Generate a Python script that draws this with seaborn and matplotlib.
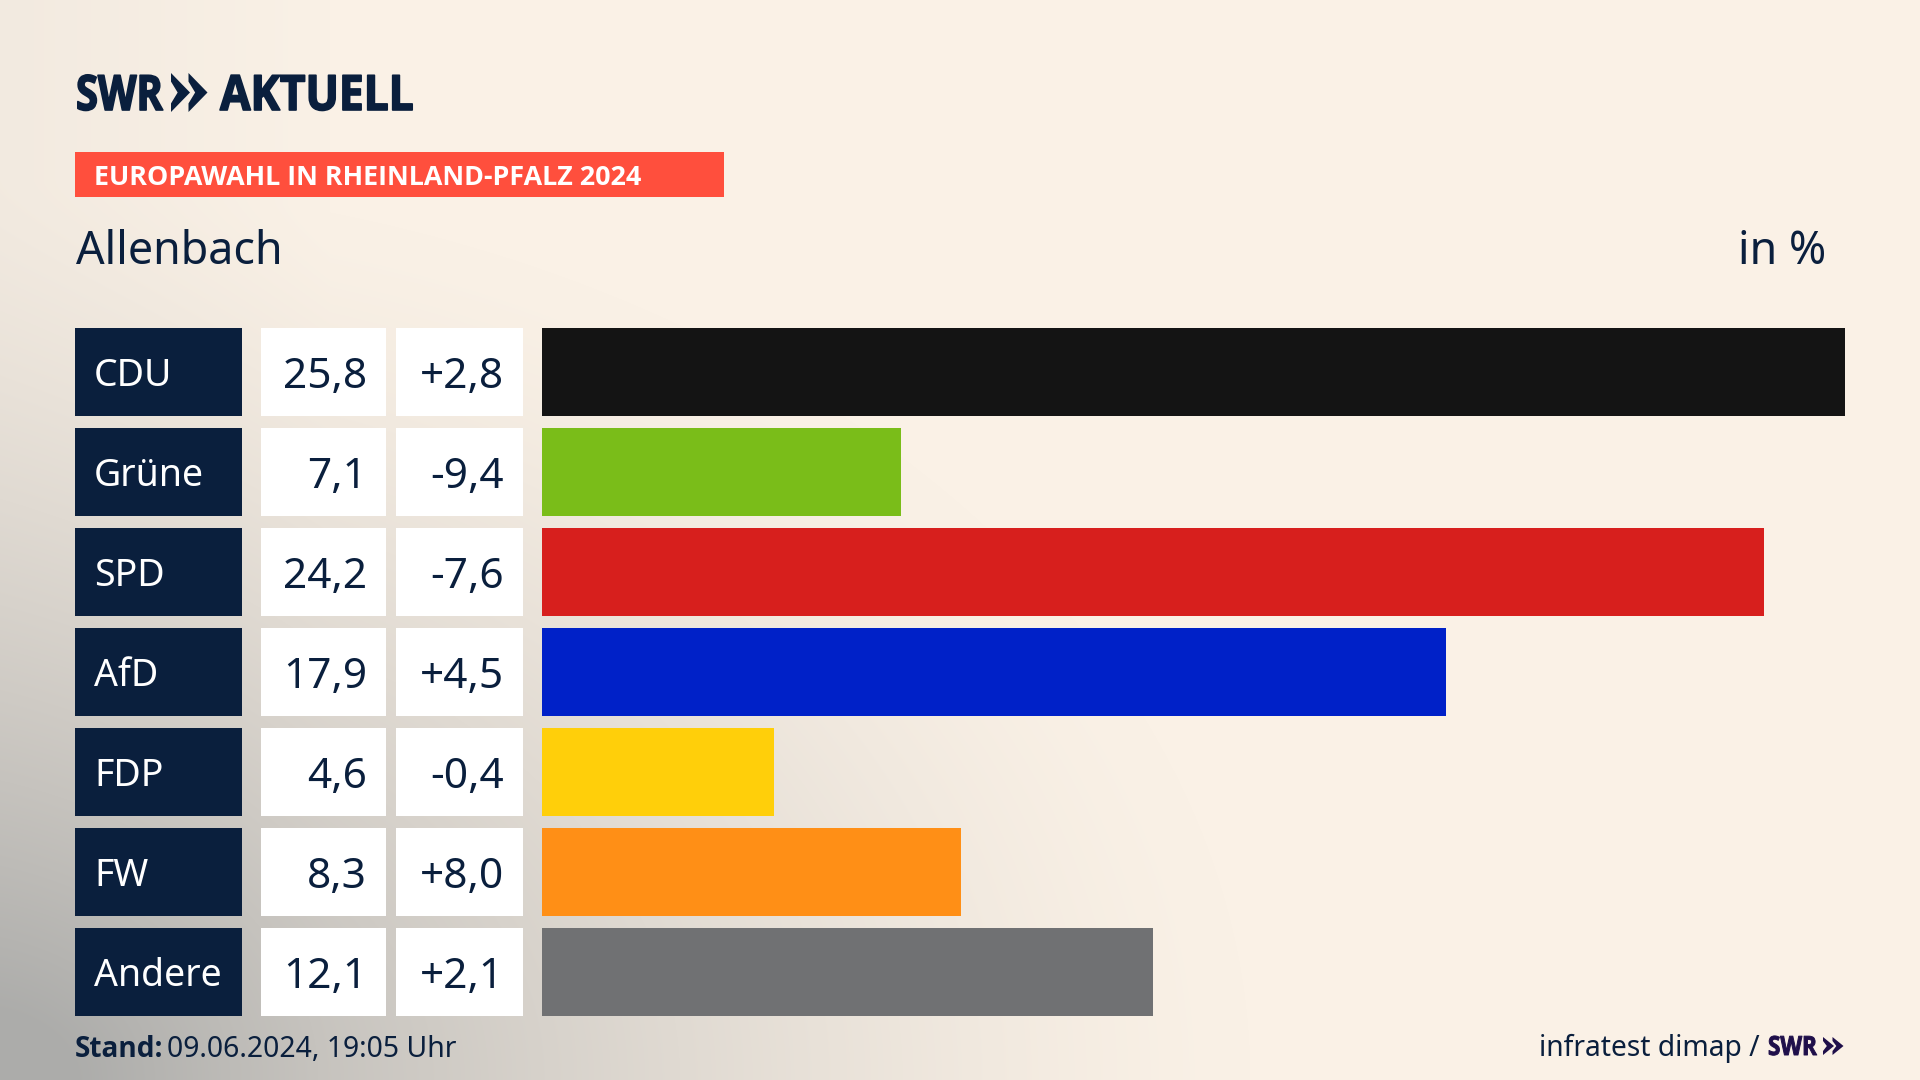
import numpy as np
import pandas as pd
import seaborn as sns
import matplotlib.pyplot as plt
from matplotlib.patheffects import AbstractPathEffect
from matplotlib.transforms import Affine2D

parties = ["CDU", "Grüne", "SPD", "AfD", "FDP", "FW", "Andere"]
shares = [25.8, 7.1, 24.2, 17.9, 4.6, 8.3, 12.1]
changes = ["+2,8", "-9,4", "-7,6", "+4,5", "-0,4", "+8,0", "+2,1"]
party_colors = ["#141414", "#7abd19", "#d71f1d", "#0021c8", "#ffcf0a", "#ff8f16", "#707173"]

NAVY = "#0a1f3d"
W, H = 1920, 1080
BOLD = "Open Sans"

sns.set_theme(style="white")
plt.rcParams["font.family"] = ["Noto Sans", "DejaVu Sans"]

fig = plt.figure(figsize=(W / 100, H / 100), dpi=100)


class Squeeze(AbstractPathEffect):
    # narrows a text around its left edge and thickens it, the logo lettering is heavy and condensed
    def __init__(self, sx, x0, lw):
        super().__init__()
        self.sx = sx
        self.x0 = x0
        self.lw = lw

    def draw_path(self, renderer, gc, tpath, affine, rgbFace=None):
        squeeze = Affine2D().translate(-self.x0, 0).scale(self.sx, 1).translate(self.x0, 0)
        gc0 = renderer.new_gc()
        gc0.copy_properties(gc)
        gc0.set_linewidth(self.lw)
        gc0.set_foreground(rgbFace)
        renderer.draw_path(gc0, tpath, affine + squeeze, rgbFace)
        gc0.restore()


def px_axes(left, top, right, bottom):
    return fig.add_axes([left / W, 1 - bottom / H, (right - left) / W, (bottom - top) / H])


# backdrop, canvas in pixels
bg = px_axes(0, 0, W, H)
yy, xx = np.mgrid[0:H, 0:W]
d = np.sqrt((xx / 1250.0) ** 2 + ((H - yy) / 900.0) ** 2)
t = np.clip(1 - d, 0, 1) ** 1.4
t = t + 0.10 * np.clip(1 - xx / 330.0, 0, 1)
t = np.clip(t, 0, 1)[..., None]
cream = np.array([250, 241, 230]) / 255
grey = np.array([172, 172, 170]) / 255
bg.imshow(cream * (1 - t) + grey * t, aspect="auto", extent=(0, W, H, 0), zorder=0)
bg.set_xlim(0, W)
bg.set_ylim(H, 0)
bg.axis("off")


def chevrons(x0, y0, w, h, gap, color):
    for x in (x0, x0 + gap):
        bg.fill([x, x + w, x, x, x + w * 0.35, x],
                [y0, y0 + h / 2, y0 + h, y0 + h * 0.78, y0 + h / 2, y0 + h * 0.22], color=color, lw=0)


def logo_text(x, y, s, size, sx, color, lw):
    txt = bg.text(x, y, s, fontsize=size, fontweight="bold", color=color, va="baseline", family=BOLD)
    txt.set_path_effects([Squeeze(sx, x, lw)])


# header
logo_text(76, 110, "SWR", 35, 0.82, NAVY, 1.2)
chevrons(171, 73, 19, 39, 17.5, NAVY)
logo_text(220, 110, "AKTUELL", 35, 0.91, NAVY, 1.2)
bg.fill([75, 724, 724, 75], [152, 152, 197, 197], color="#ff4f3d", lw=0)
bg.text(94, 175, "EUROPAWAHL IN RHEINLAND-PFALZ 2024", fontsize=19.4, fontweight="bold",
        family=BOLD, color="white", va="center_baseline")
bg.text(76, 264, "Allenbach", fontsize=32.3, color=NAVY, va="baseline")
bg.text(1826, 264, "in %", fontsize=32.3, color=NAVY, va="baseline", ha="right")

# footer
bg.text(75, 1057, "Stand:", fontsize=20.2, fontweight="bold", family=BOLD, color=NAVY, va="baseline")
bg.text(167, 1057, "09.06.2024, 19:05 Uhr", fontsize=20.4, color=NAVY, va="baseline")
bg.text(1760, 1056, "infratest dimap /", fontsize=20.3, color=NAVY, va="baseline", ha="right")
logo_text(1768, 1055, "SWR", 19, 0.85, "#1f0f4a", 0.7)
chevrons(1823, 1037, 11, 18, 9.5, "#1f0f4a")

# rows: pitch 100 px, row height 88 px
row_h = 0.88
lo, hi = -row_h / 2, len(parties) - 1 + row_h / 2
df = pd.DataFrame({"party": parties, "share": shares})

# bars, x in percent
ax = px_axes(542, 328, 1845, 1016)
ax.patch.set_alpha(0)
sns.barplot(data=df, y="party", x="share", hue="party", palette=party_colors, legend=False,
            width=row_h, saturation=1, linewidth=0, edgecolor="none", ax=ax)
ax.set_xlim(0, 25.8)
ax.set_ylim(hi, lo)
ax.axis("off")

# table cells left of the bars, x in pixels
tb = px_axes(0, 328, W, 1016)
tb.patch.set_alpha(0)
tb.set_xlim(0, W)
tb.set_ylim(hi, lo)
tb.axis("off")
rows = np.arange(len(parties))
tb.barh(rows, 167, left=75, height=row_h, color=NAVY, linewidth=0)
tb.barh(rows, 125, left=261, height=row_h, color="white", linewidth=0)
tb.barh(rows, 127, left=396, height=row_h, color="white", linewidth=0)
for i, (p, s, c) in enumerate(zip(parties, shares, changes)):
    tb.text(94, i - 0.01, p, fontsize=27, color="white", va="center_baseline")
    tb.text(367, i, f"{s:.1f}".replace(".", ","), fontsize=30.5, color=NAVY, va="center_baseline", ha="right")
    tb.text(504, i, c, fontsize=30.5, color=NAVY, va="center_baseline", ha="right")

fig.savefig("out.png", dpi=100)
